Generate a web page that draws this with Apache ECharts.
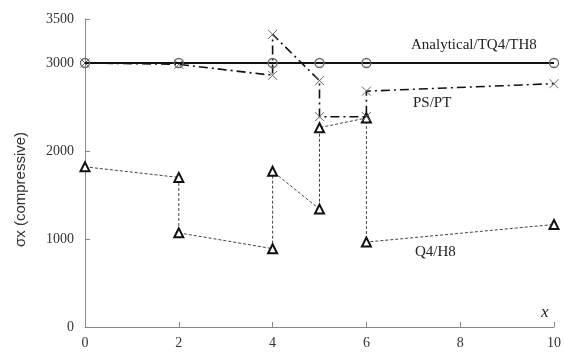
<!DOCTYPE html>
<html><head><meta charset="utf-8">
<script src="https://cdn.jsdelivr.net/npm/echarts@6/dist/echarts.min.js"></script>
<style>html,body{margin:0;padding:0;background:#fff}#c{width:564px;height:357px}</style>
</head><body><div id="c"></div>
<script>
// Data
const analyticalX = [0, 2, 4, 5, 6, 10];
const analyticalY = [3000, 3000, 3000, 3000, 3000, 3000];
const psptX = [0, 2, 4, 4, 5, 5, 6, 6, 10];
const psptY = [3000, 2985, 2860, 3325, 2800, 2390, 2390, 2680, 2765];
const q4h8X = [0, 2, 2, 4, 4, 5, 5, 6, 6, 10];
const q4h8Y = [1820, 1700, 1070, 890, 1770, 1340, 2265, 2375, 965, 1165];
const xTicks = [0, 2, 4, 6, 8, 10];
const yTicks = [0, 1000, 2000, 3000, 3500];
const seriesNames = ['Analytical/TQ4/TH8', 'PS/PT', 'Q4/H8'];

const zip = (xs, ys) => xs.map((x, i) => [x, ys[i]]);
const serif = 'Liberation Serif';
const chart = echarts.init(document.getElementById('c'), null, {renderer: 'canvas'});
chart.setOption({
  animation: false,
  backgroundColor: '#fff',
  grid: {left: 85, right: 9, top: 19, bottom: 30, containLabel: false},
  xAxis: {
    type: 'value', min: xTicks[0], max: xTicks[xTicks.length - 1], interval: 2,
    axisLine: {show: true, lineStyle: {color: '#888', width: 1}},
    axisTick: {show: true, inside: true, length: 5, lineStyle: {color: '#888'}},
    axisLabel: {color: '#333', fontFamily: serif, fontSize: 14, margin: 9, formatter: v => String(v)},
    splitLine: {show: false}
  },
  yAxis: {
    type: 'value', min: yTicks[0], max: yTicks[yTicks.length - 1], interval: 1000,
    axisLine: {show: true, lineStyle: {color: '#888', width: 1}},
    axisTick: {show: true, inside: true, length: 5, lineStyle: {color: '#888'}},
    axisLabel: {color: '#333', fontFamily: serif, fontSize: 14, margin: 11, formatter: v => String(v)},
    splitLine: {show: false}
  },
  graphic: [
    {type: 'text', x: 13, y: 247, rotation: Math.PI / 2,
     style: {text: 'σx (compressive)', fill: '#333', font: '15px "Liberation Sans"', textAlign: 'left', textVerticalAlign: 'top'}},
    {type: 'text', x: 411, y: 45, style: {text: seriesNames[0], fill: '#222', font: '15px "Liberation Serif"', textVerticalAlign: 'middle'}},
    {type: 'text', x: 413, y: 103, style: {text: seriesNames[1], fill: '#222', font: '15px "Liberation Serif"', textVerticalAlign: 'middle'}},
    {type: 'text', x: 415, y: 252, style: {text: seriesNames[2], fill: '#222', font: '15px "Liberation Serif"', textVerticalAlign: 'middle'}},
    {type: 'text', x: 541, y: 313, style: {text: 'x', fill: '#222', font: 'italic 17px "Liberation Serif"', textVerticalAlign: 'middle'}}
  ],
  series: [
    {
      name: seriesNames[2], type: 'line', data: zip(q4h8X, q4h8Y),
      symbol: 'triangle', symbolSize: 9,
      itemStyle: {color: '#fff', borderColor: '#111', borderWidth: 2},
      lineStyle: {color: '#444', width: 1, type: [3, 2]}, z: 2
    },
    {
      name: seriesNames[1], type: 'line', data: zip(psptX, psptY),
      symbol: 'path://M0,0L10,10M10,0L0,10', symbolSize: 9,
      itemStyle: {color: 'transparent', borderColor: '#666', borderWidth: 1},
      lineStyle: {color: '#111', width: 1.6, type: [9, 4, 2, 4]}, z: 3
    },
    {
      name: seriesNames[0], type: 'line', data: zip(analyticalX, analyticalY),
      symbol: 'circle', symbolSize: 9,
      itemStyle: {color: 'transparent', borderColor: '#666', borderWidth: 1.3},
      lineStyle: {color: '#111', width: 2.2, type: 'solid'}, z: 4
    }
  ]
});
</script></body></html>
